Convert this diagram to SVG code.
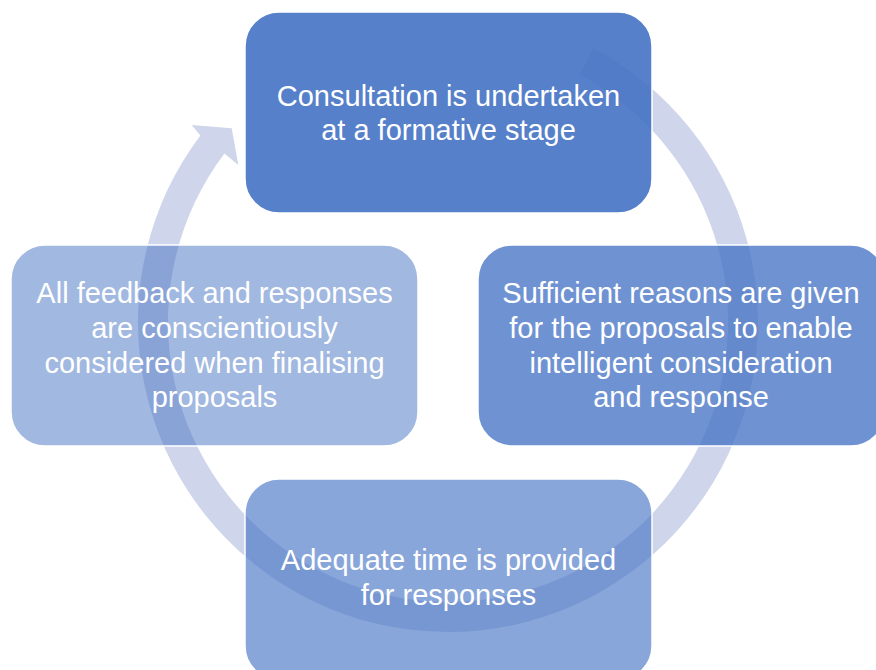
<svg xmlns="http://www.w3.org/2000/svg" width="876" height="670" viewBox="0 0 876 670">
  <style>
    .box { fill: #4472C4; stroke: #FFFFFF; stroke-width: 1.5; }
    .lbl { fill: #FFFFFF; font-family: "Liberation Sans", Arial, sans-serif; font-size: 29px; text-anchor: middle; }
    .ring { fill: #CFD5EA; stroke: none; }
  </style>
  <rect width="876" height="670" fill="#FFFFFF"/>
  <g id="connectors">
    <path class="ring" d="M 593.5 48.3 A 310 310 0 1 1 200.4 135.4 L 191.7 125 L 231.7 128.3 L 238.3 165 L 224.4 153.5 A 280 280 0 1 0 579.5 74.8 Z"/>
  </g>
  <g id="node-formative">
    <rect class="box" x="245" y="12" width="407" height="201" rx="34" ry="34" fill-opacity="0.9"/>
    <text class="lbl" x="448.5" y="106">Consultation is undertaken</text>
    <text class="lbl" x="448.5" y="140">at a formative stage</text>
  </g>
  <g id="node-reasons">
    <rect class="box" x="478" y="245" width="407" height="201" rx="34" ry="34" fill-opacity="0.77"/>
    <text class="lbl" x="681" y="303">Sufficient reasons are given</text>
    <text class="lbl" x="681" y="338">for the proposals to enable</text>
    <text class="lbl" x="681" y="373">intelligent consideration</text>
    <text class="lbl" x="681" y="407">and response</text>
  </g>
  <g id="node-time">
    <rect class="box" x="245" y="479" width="407" height="201" rx="34" ry="34" fill-opacity="0.63"/>
    <text class="lbl" x="448.5" y="570">Adequate time is provided</text>
    <text class="lbl" x="448.5" y="605">for responses</text>
  </g>
  <g id="node-feedback">
    <rect class="box" x="11" y="245" width="407" height="201" rx="34" ry="34" fill-opacity="0.5"/>
    <text class="lbl" x="214.5" y="303">All feedback and responses</text>
    <text class="lbl" x="214.5" y="338">are conscientiously</text>
    <text class="lbl" x="214.5" y="373">considered when finalising</text>
    <text class="lbl" x="214.5" y="407">proposals</text>
  </g>
</svg>
